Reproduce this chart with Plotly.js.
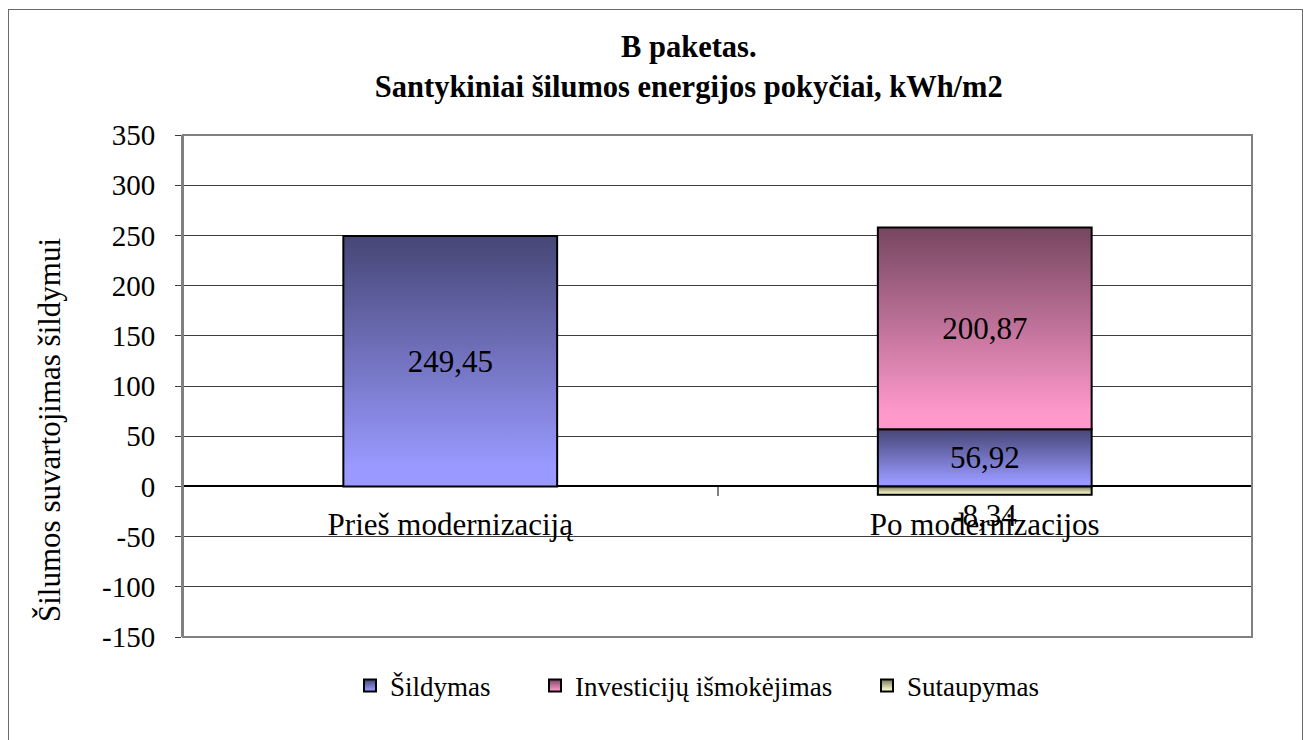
<!DOCTYPE html>
<html>
<head>
<meta charset="utf-8">
<script src="https://cdn.plot.ly/plotly-3.0.1.min.js"></script>
<style>
  html, body { margin: 0; padding: 0; background: #fff; }
  #wrap { position: relative; width: 1307px; height: 740px; overflow: hidden; }
  #chart { position: absolute; left: 0; top: 0; width: 1307px; height: 740px; }
  #frame { position: absolute; left: 8px; top: 9px; width: 1295px; height: 760px;
           border: 1.5px solid #6a6a6a; pointer-events: none; box-sizing: border-box; }
</style>
</head>
<body>
<div id="wrap">
  <div id="chart"></div>
  <div id="frame"></div>
</div>
<script>
// ---- data ----
const categories = ["Prieš modernizaciją", "Po modernizacijos"];
const seriesNames = ["Šildymas", "Investicijų išmokėjimas", "Sutaupymas"];
const sildymas = [249.45, 56.92];
const investicijos = [null, 200.87];
const sutaupymas = [null, -8.34];
const yTicks = [-150, -100, -50, 0, 50, 100, 150, 200, 250, 300, 350];

const FONT = "Liberation Serif";
const fmt = v => (v === null ? "" : v.toFixed(2).replace(".", ","));

// base colours (replaced by gradients after render)
const base = ["rgb(121, 121, 201)", "rgb(201, 121, 161)", "rgb(221, 221, 171)"];
const grads = [
  ["rgb(70, 70, 118)", "rgb(153, 153, 255)"],
  ["rgb(118, 70, 96)", "rgb(255, 153, 204)"],
  ["rgb(120, 120, 96)", "rgb(255, 255, 204)"]
];

const LBL = 31;
const common = {
  type: "bar",
  x: categories,
  width: 0.4,
  constraintext: "none",
  cliponaxis: false,
  textfont: { family: FONT, size: LBL, color: "#000" },
  insidetextfont: { family: FONT, size: LBL, color: "#000" },
  outsidetextfont: { family: FONT, size: LBL, color: "#000" },
  insidetextanchor: "middle",
  hoverinfo: "skip"
};

const traces = [
  Object.assign({}, common, {
    name: seriesNames[0], y: sildymas, text: sildymas.map(fmt),
    textposition: "inside",
    marker: { color: base[0], line: { color: "#000", width: 2 } },
    legend: "legend"
  }),
  Object.assign({}, common, {
    name: seriesNames[1], y: investicijos, text: investicijos.map(fmt),
    textposition: "inside",
    marker: { color: base[1], line: { color: "#000", width: 2 } },
    legend: "legend2"
  }),
  Object.assign({}, common, {
    name: seriesNames[2], y: sutaupymas, text: sutaupymas.map(fmt),
    textposition: "outside",
    marker: { color: base[2], line: { color: "#000", width: 2 } },
    legend: "legend3"
  })
];

const plotL = 183, plotR = 1252, plotT = 135, plotB = 637;
const pw = plotR - plotL, ph = plotB - plotT;
const px = v => (v - plotL) / pw;
const py = v => (plotB - v) / ph;

const legendBase = {
  orientation: "h", xanchor: "left", yanchor: "middle", y: py(686),
  font: { family: FONT, size: 27, color: "#000" },
  bgcolor: "rgba(0,0,0,0)", borderwidth: 0, itemclick: false, itemdoubleclick: false
};

const layout = {
  font: { family: FONT, color: "#000" },
  width: 1307, height: 740,
  margin: { l: plotL, r: 1307 - plotR, t: plotT, b: 740 - plotB, pad: 0 },
  paper_bgcolor: "rgba(0,0,0,0)",
  plot_bgcolor: "#fff",
  barmode: "relative",
  bargap: 0.6,
  title: {
    text: "<b>B paketas.</b><br><b>Santykiniai šilumos energijos pokyčiai, kWh/m2</b>",
    font: { family: FONT, size: 30.5, color: "#000" },
    xref: "container", x: 0.527, xanchor: "center",
    yref: "container", y: 1 - 57 / 740, yanchor: "top"
  },
  xaxis: {
    type: "category",
    anchor: "free", position: 150 / 500,
    showline: false, showgrid: false, zeroline: false,
    ticks: "outside", tickson: "boundaries", ticklen: 9, tickwidth: 2, tickcolor: "#808080",
    tickfont: { family: FONT, size: 31, color: "#000" },
    ticklabelstandoff: 17,
    fixedrange: true
  },
  yaxis: {
    range: [-150, 350], tickvals: yTicks, ticktext: yTicks.map(String),
    showline: true, linecolor: "#808080", linewidth: 2,
    showgrid: true, gridcolor: "#3c3c3c", gridwidth: 1,
    zeroline: true, zerolinecolor: "#000", zerolinewidth: 2,
    ticks: "outside", ticklen: 6, tickwidth: 1, tickcolor: "#3c3c3c",
    tickfont: { family: FONT, size: 29, color: "#000" },
    ticklabelstandoff: 14,
    fixedrange: true
  },
  showlegend: true,
  legend: Object.assign({}, legendBase, { x: px(350) }),
  legend2: Object.assign({}, legendBase, { x: px(535) }),
  legend3: Object.assign({}, legendBase, { x: px(867) }),
  shapes: [{
    type: "rect", xref: "paper", yref: "paper", x0: 0, x1: 1, y0: 0, y1: 1,
    line: { color: "#808080", width: 2 }, fillcolor: "rgba(0,0,0,0)", layer: "above"
  }],
  annotations: [{
    text: "Šilumos suvartojimas šildymui",
    xref: "paper", yref: "paper", x: px(50), y: py(430),
    xanchor: "center", yanchor: "middle", textangle: -90, showarrow: false,
    font: { family: FONT, size: 31, color: "#000" }
  }]
};

Plotly.newPlot("chart", traces, layout, { staticPlot: true, displayModeBar: false }).then(gd => {
  const svg = gd.querySelector("svg.main-svg");
  const ns = "http://www.w3.org/2000/svg";
  let defs = svg.querySelector("defs");
  if (!defs) { defs = document.createElementNS(ns, "defs"); svg.insertBefore(defs, svg.firstChild); }
  grads.forEach((g, i) => {
    const lg = document.createElementNS(ns, "linearGradient");
    lg.setAttribute("id", "grad" + i);
    lg.setAttribute("x1", "0"); lg.setAttribute("y1", "0");
    lg.setAttribute("x2", "0"); lg.setAttribute("y2", "1");
    [[0, g[0]], [0.92, g[1]], [1, g[1]]].forEach(([o, c]) => {
      const s = document.createElementNS(ns, "stop");
      s.setAttribute("offset", o); s.setAttribute("stop-color", c);
      lg.appendChild(s);
    });
    defs.appendChild(lg);
  });
  gd.querySelectorAll("path").forEach(p => {
    const f = p.style.fill;
    const idx = base.indexOf(f);
    if (idx >= 0) p.style.fill = "url(#grad" + idx + ")";
  });
});
</script>
</body>
</html>
